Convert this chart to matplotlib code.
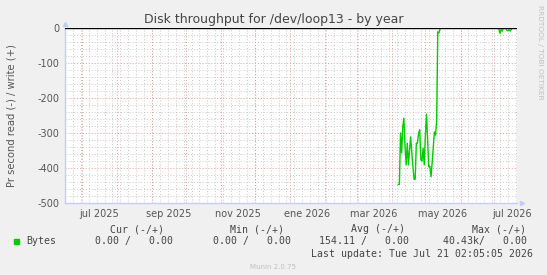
import numpy as np
import pandas as pd
import matplotlib
matplotlib.use("Agg")
import matplotlib.pyplot as plt
from matplotlib.patches import Rectangle

# ---- data ----
title = "Disk throughput for /dev/loop13 - by year"
ylabel = "Pr second read (-) / write (+)"

graph_start = "2025-06-16 02:05"
graph_end = "2026-07-21 02:05"

# daily read rate (negative = read), first burst starting 2026-04-07
burst_start = "2026-04-07"
burst_values = [-447, -447, -300, -357, -282, -258, -339, -391, -329, -391,
                -349, -311, -357, -397, -432, -432, -329, -329, -300, -291,
                -377, -380, -343, -391, -306, -246, -320, -397, -395, -425,
                -385, -340, -297, -306, -263, -11, -14, -3, 0]
# small blips at the end of the period, starting 2026-07-04
tail_start = "2026-07-04"
tail_values = [0, -3, -15, -5, -9, 0, 0, 0, -6, -8, -5, -9, -4, 0, 0, 0, 0]

month_labels = ["jul 2025", "sep 2025", "nov 2025", "ene 2026",
                "mar 2026", "may 2026", "jul 2026"]
month_label_starts = ["2025-07-01", "2025-09-01", "2025-11-01", "2026-01-01",
                      "2026-03-01", "2026-05-01", "2026-07-01"]
y_ticks = [0, -100, -200, -300, -400, -500]

legend_name = "Bytes"
headers = ["Cur (-/+)", "Min (-/+)", "Avg (-/+)", "Max (-/+)"]
values_row = ["0.00 /   0.00", "0.00 /   0.00", "154.11 /   0.00", "40.43k/   0.00"]
last_update = "Last update: Tue Jul 21 02:05:05 2026"
version = "Munin 2.0.75"

# ---- build series ----
burst_dates = pd.date_range(burst_start, periods=len(burst_values), freq="D")
tail_dates = pd.date_range(tail_start, periods=len(tail_values), freq="D")
gap_dates = pd.date_range(burst_dates[-1] + pd.Timedelta(days=1),
                          tail_dates[0] - pd.Timedelta(days=1), freq="D")
dates = burst_dates.append(gap_dates).append(tail_dates)
vals = np.concatenate([burst_values, np.zeros(len(gap_dates)), tail_values])

W, H = 547, 275
fig = plt.figure(figsize=(W / 100, H / 100), dpi=100, facecolor="#F0F0F0")

def fx(px):
    return px / W

def fy(py):
    return 1 - py / H

left, right, top, bottom = 65, 517, 28, 203
ax = fig.add_axes([fx(left), fy(bottom), fx(right - left), (bottom - top) / H])
ax.set_facecolor("white")

x0 = pd.Timestamp(graph_start)
x1 = pd.Timestamp(graph_end)
ax.set_xlim(x0, x1)
ax.set_ylim(-500, 0)

# grid: minor grey, major red
grid_kw = dict(lw=0.7, ls=(0, (1, 2)), zorder=1)
minor_c, major_c = "#CACACA", "#EC9A9A"
for yv in range(-480, 0, 20):
    if yv % 100:
        ax.axhline(yv, color=minor_c, **grid_kw)
for yv in y_ticks:
    ax.axhline(yv, color=major_c, **grid_kw)
for d in pd.date_range(x0, x1, freq="W-MON"):
    ax.axvline(d, color=minor_c, **grid_kw)
for d in pd.date_range(x0, x1, freq="MS"):
    ax.axvline(d, color=major_c, **grid_kw)

ax.plot(dates, vals, color="#00CC00", lw=1.0, zorder=3)
ax.axhline(0, color="black", lw=1.0, zorder=4)

# ticks
mids = []
for s in month_label_starts:
    t = pd.Timestamp(s)
    mids.append(t + (t + pd.offsets.MonthBegin(1) - t) / 2)
ax.set_xticks(mids)
ax.set_xticklabels(month_labels)
ax.set_yticks(y_ticks)
ax.set_yticklabels([str(v) for v in y_ticks])
ax.tick_params(length=0, labelsize=7, colors="#555555")
ax.tick_params(axis="x", pad=4)
ax.tick_params(axis="y", pad=4)

for s in ["top", "right"]:
    ax.spines[s].set_visible(False)
for s in ["left", "bottom"]:
    ax.spines[s].set_color("#C8CCF4")
    ax.spines[s].set_linewidth(1.0)
ax.plot([0], [1.025], marker="^", ms=3, color="#C8CCF4", transform=ax.transAxes,
        clip_on=False)
ax.plot([1.01], [0], marker=">", ms=3, color="#C8CCF4", transform=ax.transAxes,
        clip_on=False)

# texts
fig.text(fx(274), fy(19), title, ha="center", va="center", fontsize=9,
         color="#444444")
fig.text(fx(12), fy(116), ylabel, rotation=90, ha="center", va="center",
         fontsize=7.2, color="#555555")
fig.text(fx(540), fy(5), "RRDTOOL / TOBI OETIKER", rotation=270, ha="center",
         va="top", fontsize=5.3, color="#C0C0C0")

mono = dict(family="DejaVu Sans Mono", fontsize=7.1, color="#444444", va="center")
header_right = [164, 284, 405, 526]
value_right = [173, 291, 409, 527]
for h, xr in zip(headers, header_right):
    fig.text(fx(xr), fy(229), h, ha="right", **mono)
for v, xr in zip(values_row, value_right):
    fig.text(fx(xr), fy(241), v, ha="right", **mono)
fig.text(fx(26), fy(241), legend_name, ha="left", **mono)
fig.patches.append(Rectangle((fx(14), fy(244)), 5 / W, 5 / H, color="#00CC00",
                             transform=fig.transFigure, figure=fig))
fig.text(fx(533), fy(254), last_update, ha="right", **mono)
fig.text(fx(273), fy(267), version, ha="center", va="center", fontsize=5,
         color="#C0C0C0")

fig.savefig("out.png", dpi=100, facecolor=fig.get_facecolor())
